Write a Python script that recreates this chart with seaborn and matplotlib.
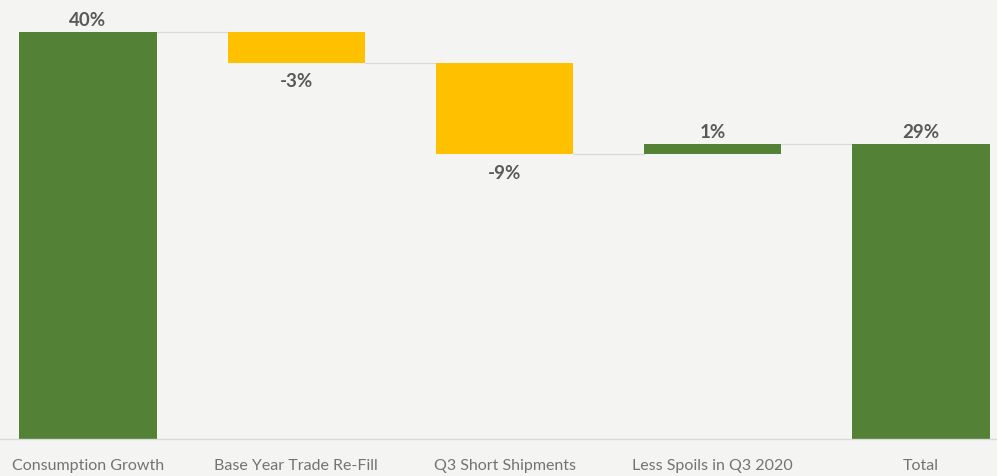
import numpy as np
import pandas as pd
import matplotlib
matplotlib.use("Agg")
import matplotlib.pyplot as plt
import seaborn as sns

# Waterfall of growth contributions
categories = ["Consumption Growth", "Base Year Trade Re-Fill", "Q3 Short Shipments",
              "Less Spoils in Q3 2020", "Total"]
changes = [40, -3, -9, 1]
total = 29
value_labels = ["40%", "-3%", "-9%", "1%", "29%"]

GREEN = "#538135"
YELLOW = "#FFC000"
BG = "#f4f4f2"

# Floating bar geometry from running total
starts, ends = [], []
running = 0
for c in changes:
    starts.append(running)
    running += c
    ends.append(running)
starts.append(0)
ends.append(total)
bottoms = [min(s, e) for s, e in zip(starts, ends)]
heights = [abs(e - s) for s, e in zip(starts, ends)]
colors = [GREEN if e >= s else YELLOW for s, e in zip(starts, ends)]

df = pd.DataFrame({"category": categories, "height": heights, "bottom": bottoms})

sns.set_theme(style="white")
plt.rcParams["font.family"] = ["Lato", "DejaVu Sans"]

fig = plt.figure(figsize=(9.97, 4.77), dpi=100, facecolor=BG)
ax = fig.add_axes([0, 1 - 440 / 477, 1, 440 / 477])
ax.set_facecolor(BG)

bar_w = 0.66
sns.barplot(data=df, x="category", y="height", bottom=df["bottom"].to_numpy(),
            width=bar_w, color=GREEN, saturation=1, linewidth=0, ax=ax)
for patch, col in zip(ax.patches, colors):
    patch.set_facecolor(col)
    patch.set_edgecolor("none")

# connector lines between consecutive bars
for i in range(len(categories) - 1):
    level = ends[i]
    ax.plot([i + bar_w / 2, i + 1 - bar_w / 2], [level, level], color="#d9d9d9", lw=0.9,
            zorder=0)

# value labels
for i, (s, e, lab) in enumerate(zip(starts, ends, value_labels)):
    if e >= s:
        ax.annotate(lab, (i, max(s, e)), xytext=(0, 3), textcoords="offset points",
                    ha="center", va="bottom", fontsize=13.5, fontweight="bold", color="#595959")
    else:
        ax.annotate(lab, (i, min(s, e)), xytext=(0, -7), textcoords="offset points",
                    ha="center", va="top", fontsize=13.5, fontweight="bold", color="#595959")

ax.set_xlim(-88 / 208.25, (997 - 88) / 208.25)
ax.set_ylim(0, 40 + 33 / 10.175)
ax.set_xlabel("")
ax.set_ylabel("")
ax.set_yticks([])
ax.tick_params(axis="x", length=0, pad=14, labelsize=11.5, labelcolor="#737373")
for side in ["top", "left", "right"]:
    ax.spines[side].set_visible(False)
ax.spines["bottom"].set_color("#d9d9d9")
ax.spines["bottom"].set_linewidth(1.0)

fig.savefig("out.png", dpi=100, facecolor=BG)
